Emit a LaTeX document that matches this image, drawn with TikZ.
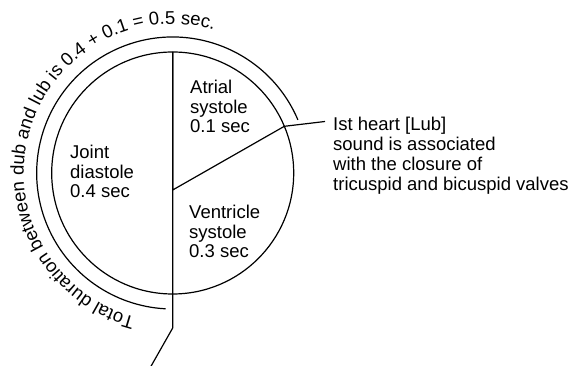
\documentclass[tikz,border=0pt]{standalone}
\usepackage{fontspec}
\setmainfont{Liberation Sans}
\usetikzlibrary{decorations.text, calc}

\begin{document}
\begin{tikzpicture}[x=1pt, y=1pt,
  phase/.style={anchor=base west, align=left, inner sep=0pt, font=\fontsize{18.5}{19.8}\selectfont},
  ring/.style={line width=1.2pt}
]
  \useasboundingbox (0,0) rectangle (581,366);

  % Centre and points of the cycle circle
  \coordinate (O) at (172.7,193);
  \coordinate (top) at ($(O)+(90:121)$);
  \coordinate (J) at (172.7,176);
  \coordinate (lub) at ($(O)+(22.7:121)$);
  \coordinate (kink) at (172.7,38);
  \coordinate (dub) at (150,-2);
  \coordinate (lead) at (325,244.5);

  % Cycle circle and its dividing lines
  \draw[ring] (O) circle[radius=121pt];
  \draw[ring] (top) -- (J) -- (lub);
  \draw[ring] (top) -- (kink) -- (dub);
  \draw[ring] (lub) -- (lead);

  % Outer arc for the dub-lub interval
  \draw[ring] ($(O)+(23:136)$) arc[start angle=23, end angle=267, radius=136pt];

  % Phases (anchored at the baseline of the last line)
  \node[phase] (atrial) at (190,233.1) {Atrial\\systole\\0.1 sec};
  \node[phase] (ventricle) at (189,108.1) {Ventricle\\systole\\0.3 sec};
  \node[phase] (joint) at (70,168.1) {Joint\\diastole\\0.4 sec};

  % Note on the first heart sound
  \node[phase] (note) at (333,175.6) {Ist heart [Lub]\\sound is associated\\with the closure of\\tricuspid and bicuspid valves};

  % Text along the outer arc
  \path[decorate, decoration={text along path, text align=left,
    text={|\fontsize{18.5}{20}\selectfont|Total duration between dub and lub is 0.4 + 0.1 = 0.5 sec.}}]
    ($(O)+(255.5:149)$) arc[start angle=255.5, end angle=50, radius=149pt];

\end{tikzpicture}
\end{document}
